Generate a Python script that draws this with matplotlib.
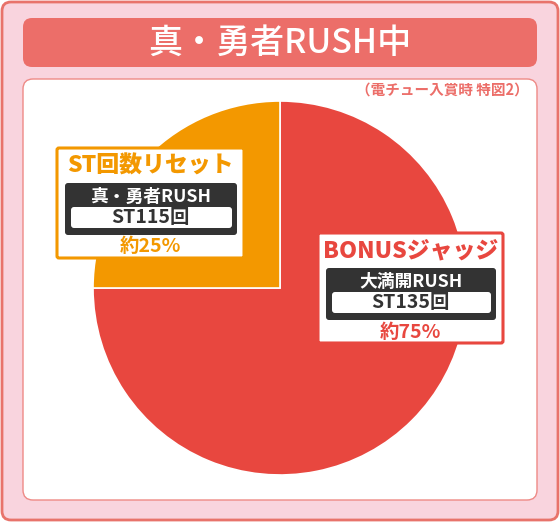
import matplotlib
matplotlib.use("Agg")
import matplotlib.pyplot as plt
from matplotlib.patches import FancyBboxPatch

plt.rcParams['font.family'] = ['Noto Sans CJK JP', 'DejaVu Sans']

# data
title = "真・勇者RUSH中"
note = "（電チュー入賞時 特図2）"
categories = ["BONUSジャッジ", "ST回数リセット"]
shares = [75, 25]
rush_names = ["大満開RUSH", "真・勇者RUSH"]
st_counts = ["ST135回", "ST115回"]
share_labels = ["約75%", "約25%"]

RED = "#E8473F"
ORANGE = "#F39800"
SALMON = "#EC6E69"
PINK = "#F9D4DE"
DARK = "#333333"

W, H = 560, 523
fig = plt.figure(figsize=(W / 100, H / 100), dpi=100)

def pix_axes(z):
    ax = fig.add_axes([0, 0, 1, 1], zorder=z)
    ax.set_xlim(0, W)
    ax.set_ylim(H, 0)
    ax.axis("off")
    ax.patch.set_alpha(0)
    return ax

def rbox(ax, x0, y0, x1, y1, r, fc, ec="none", lw=0):
    ax.add_patch(FancyBboxPatch((x0, y0), x1 - x0, y1 - y0,
                                boxstyle=f"round,pad=0,rounding_size={r}",
                                fc=fc, ec=ec, lw=lw))

# background frame
bg = pix_axes(0)
rbox(bg, 2, 2, 558, 520, 9, PINK, "#E8736B", 2)
rbox(bg, 23, 18, 537, 67, 9, SALMON)
bg.text(280, 43, title, color="white", fontsize=24.5, fontweight="medium",
        ha="center", va="center")
rbox(bg, 23, 79, 537, 500, 10, "white", "#EE8A86", 1)
bg.text(529, 90, note, color=SALMON, fontsize=10.5, fontweight="bold",
        ha="right", va="center")

# pie
cx, cy, r = 280, 288, 187
pax = fig.add_axes([(cx - r) / W, (H - cy - r) / H, 2 * r / W, 2 * r / H], zorder=1)
pax.pie(shares, colors=[RED, ORANGE], startangle=90, counterclock=False,
        wedgeprops=dict(edgecolor="white", linewidth=1.2))
pax.set_xlim(-1, 1)
pax.set_ylim(-1, 1)

# labels
ov = pix_axes(2)
boxes = [
    ((318, 233, 503, 343), RED),
    ((57, 148, 244, 258), ORANGE),
]
for i, ((x0, y0, x1, y1), col) in enumerate(boxes):
    xc = (x0 + x1) / 2
    rbox(ov, x0, y0, x1, y1, 2, "white", col, 2.2)
    ov.text(xc, y0 + 18, categories[i], color=col, fontsize=16.5,
            fontweight="black", ha="center", va="center")
    rbox(ov, x0 + 8, y0 + 35, x1 - 7, y0 + 87, 3, DARK)
    ov.text(xc, y0 + 49, rush_names[i], color="white", fontsize=12.8,
            fontweight="bold", ha="center", va="center")
    rbox(ov, x0 + 14, y0 + 59, x1 - 12, y0 + 80, 3, "white")
    ov.text(xc, y0 + 69.5, st_counts[i], color=DARK, fontsize=14,
            fontweight="bold", ha="center", va="center")
    ov.text(xc, y0 + 99, share_labels[i], color=col, fontsize=14,
            fontweight="bold", ha="center", va="center")

fig.savefig("out.png", dpi=100)
